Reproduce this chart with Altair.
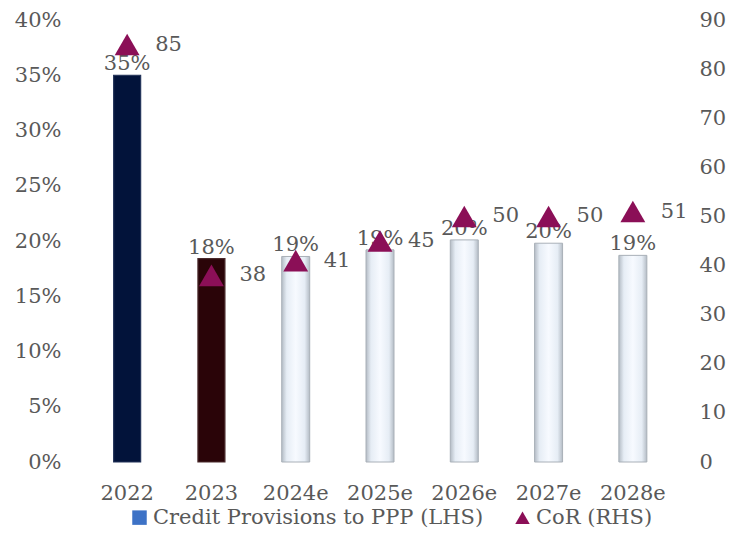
import altair as alt
import pandas as pd

years = ["2022", "2023", "2024e", "2025e", "2026e", "2027e", "2028e"]
provisions = [0.350, 0.184, 0.186, 0.192, 0.201, 0.198, 0.187]
prov_labels = ["35%", "18%", "19%", "19%", "20%", "20%", "19%"]
cor = [85, 38, 41, 45, 50, 50, 51]
actual_years = ["2022", "2023"]
actual_fills = ["#02133a", "#2a0408"]
actual_strokes = ["#24345a", "#4a2a2c"]
series = ["Credit Provisions to PPP (LHS)", "CoR (RHS)"]
series_colors = ["#3d72c6", "#8b0f57"]
series_shapes = ["square", "triangle-up"]

FONT = "DejaVu Serif"
GREY = "#595959"
FS = 21

df = pd.DataFrame({"year": years, "prov": provisions, "plab": prov_labels, "cor": cor})
leg = pd.DataFrame({"series": series})

xenc = alt.X("year:N", sort=years, title=None,
             scale=alt.Scale(domain=years, paddingInner=0, paddingOuter=0),
             axis=alt.Axis(labelAngle=0, labelPadding=20))
base = alt.Chart(df).encode(x=xenc)

yleft = alt.Y("prov:Q", title=None,
              scale=alt.Scale(domain=[0, 0.4], nice=False),
              axis=alt.Axis(format=".0%", values=[0, 0.05, 0.1, 0.15, 0.2, 0.25, 0.3, 0.35, 0.4],
                            orient="left", labelPadding=24))

dark_bars = base.transform_filter(
    alt.FieldOneOfPredicate(field="year", oneOf=actual_years)
).mark_bar(size=27, strokeWidth=1.2).encode(
    y=yleft,
    fill=alt.Fill("year:N", scale=alt.Scale(domain=actual_years, range=actual_fills), legend=None),
    stroke=alt.Stroke("year:N", scale=alt.Scale(domain=actual_years, range=actual_strokes), legend=None),
)
light_bars = base.transform_filter(
    ~alt.FieldOneOfPredicate(field="year", oneOf=actual_years)
).mark_bar(
    size=28, strokeWidth=1, stroke="#a9b0b8",
    color=alt.Gradient(gradient="linear", x1=0, x2=1, y1=0, y2=0,
                       stops=[alt.GradientStop(offset=0, color="#b4bcc5"),
                              alt.GradientStop(offset=0.18, color="#e6edf5"),
                              alt.GradientStop(offset=0.5, color="#f7faff"),
                              alt.GradientStop(offset=0.82, color="#e6edf5"),
                              alt.GradientStop(offset=1, color="#b4bcc5")]),
).encode(y=yleft)

bar_text = base.mark_text(baseline="alphabetic", dy=-5, font=FONT, fontSize=FS, color=GREY).encode(
    y=alt.Y("prov:Q"),
    text="plab:N",
)
left = alt.layer(dark_bars, light_bars, bar_text)

tri = base.mark_point(shape="triangle-up", filled=True, size=620, opacity=1, color="#8b0f57").encode(
    y=alt.Y("cor:Q", title=None,
            scale=alt.Scale(domain=[0, 90], nice=False),
            axis=alt.Axis(values=[0, 10, 20, 30, 40, 50, 60, 70, 80, 90],
                          orient="right", labelPadding=24)),
)
tri_text = base.mark_text(align="left", baseline="middle", dx=28, font=FONT, fontSize=FS, color=GREY).encode(
    y=alt.Y("cor:Q"),
    text="cor:Q",
)
right = alt.layer(tri, tri_text)

legend_layer = alt.Chart(leg).mark_point(filled=True, size=0, opacity=1).encode(
    color=alt.Color("series:N", sort=series, scale=alt.Scale(domain=series, range=series_colors),
                    legend=alt.Legend(title=None, orient="none", legendX=44, legendY=487,
                                      direction="horizontal", symbolOpacity=1, symbolSize=210,
                                      labelFont=FONT, labelFontSize=21, labelColor=GREY,
                                      labelLimit=0, columnPadding=28, labelOffset=3)),
    shape=alt.Shape("series:N", sort=series, scale=alt.Scale(domain=series, range=series_shapes)),
)

chart = alt.layer(left, right, legend_layer).resolve_scale(y="independent").properties(
    width=590, height=442,
    padding={"left": 77, "top": 12, "right": 54, "bottom": 66},
    autosize=alt.AutoSizeParams(type="none"),
).configure_view(stroke=None).configure_axis(
    labelFont=FONT, labelFontSize=FS, labelColor=GREY,
    domain=False, ticks=False, grid=False,
)

chart.save("out.html", embed_options={"renderer": "svg", "actions": False})
